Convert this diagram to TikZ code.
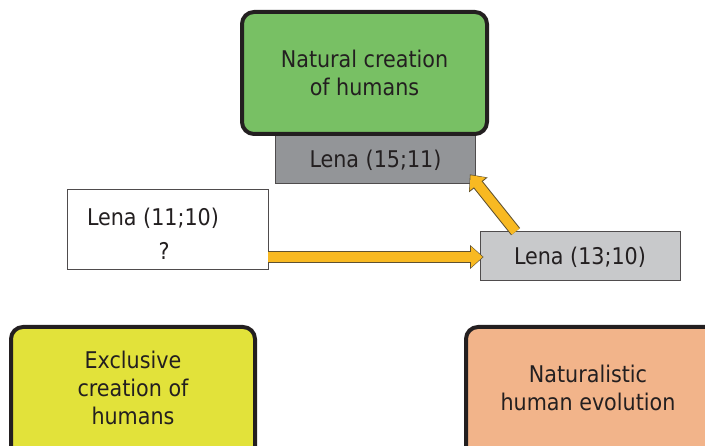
\documentclass[tikz,border=0pt]{standalone}
\usepackage{fontspec}
\setmainfont{DejaVu Sans Condensed}
\usetikzlibrary{arrows.meta,calc}
\definecolor{greenbox}{HTML}{78C064}
\definecolor{yellowbox}{HTML}{E2E23A}
\definecolor{orangebox}{HTML}{F2B48A}
\definecolor{darkgray}{HTML}{939598}
\definecolor{lightgray}{HTML}{C8C9CB}
\definecolor{arrowfill}{HTML}{F8B922}
\definecolor{arrowedge}{HTML}{5E5030}
\definecolor{ink}{HTML}{231F20}
\tikzset{
  bigbox/.style={draw=ink, line width=4pt, rounded corners=12pt},
  smallbox/.style={draw=ink!80, line width=0.8pt},
  lbl/.style={text=ink, font=\fontsize{23}{28}\selectfont, align=center, inner sep=0pt},
  arrowedgepass/.style={draw=arrowedge, line width=11.5pt, -{Triangle[width=23pt,length=13.5pt]}},
  arrowfillpass/.style={draw=arrowfill, line width=9.5pt, -{Triangle[width=20pt,length=11.5pt]}, shorten >=1pt},
}
\begin{document}
\begin{tikzpicture}[x=1pt,y=-1pt]
\useasboundingbox (0,0) rectangle (705,446);
\clip (0,0) rectangle (705,446);
% gray box under the green one
\node[smallbox, fill=darkgray, minimum width=200pt, minimum height=50pt, inner sep=0pt] (g15) at (375.5,158) {};
\node[lbl] (g15t) at (375.5,160) {Lena (15;11)};
% green box
\node[bigbox, fill=greenbox, minimum width=245pt, minimum height=122pt, inner sep=0pt] (green) at (364.5,73) {};
\node[lbl] (greent) at (364.5,72.5) {Natural creation\\of humans};
% white box
\node[smallbox, fill=white, minimum width=201pt, minimum height=80pt, inner sep=0pt] (w11) at (167.5,229) {};
\node[lbl] (w11a) at (153,218) {Lena (11;10)};
\node[lbl] (w11b) at (164,251) {?};
% light gray box
\node[smallbox, fill=lightgray, minimum width=200pt, minimum height=49pt, inner sep=0pt] (l13) at (580,255.5) {};
\node[lbl] (l13t) at (580,257) {Lena (13;10)};
% yellow box
\node[bigbox, fill=yellowbox, minimum width=244pt, minimum height=135pt, inner sep=0pt] (yellow) at (133,394.5) {};
\node[lbl] (yellowt) at (133,388) {Exclusive\\creation of\\humans};
% orange box
\node[bigbox, fill=orangebox, minimum width=255pt, minimum height=135pt, inner sep=0pt] (orange) at (593.5,394.5) {};
\node[lbl] (oranget) at (588,387.5) {Naturalistic\\human evolution};
% arrows
\coordinate (a1s) at ($(w11.east)+(0,28)$);
\coordinate (a1e) at ($(l13.west |- a1s)+(4,0)$);
\draw[arrowedgepass] (a1s) -- (a1e);
\draw[arrowfillpass] (a1s) -- (a1e);
\coordinate (a2s) at ($(l13.north west)+(36,1)$);
\coordinate (a2e) at ($(g15.south east)+(-6,-9)$);
\draw[arrowedgepass] (a2s) -- (a2e);
\draw[arrowfillpass] (a2s) -- (a2e);
\end{tikzpicture}
\end{document}
